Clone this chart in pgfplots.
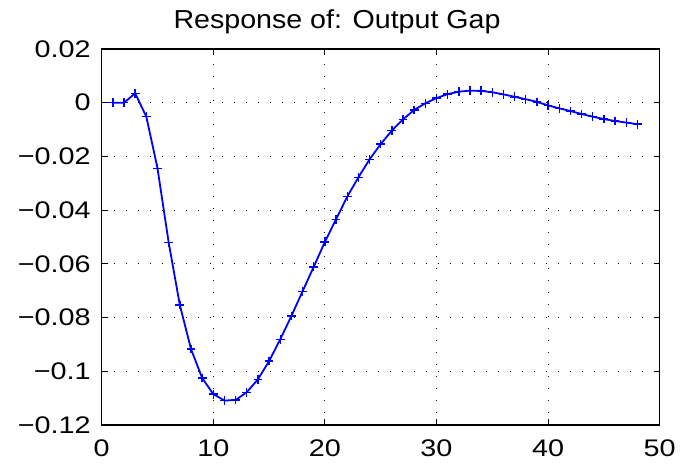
\documentclass[border=0pt]{standalone}
\usepackage{pgfplots}
\pgfplotsset{compat=1.18}
\usepackage{fontspec}
\setmainfont{Liberation Sans}
\newfontfamily\tickfont{Liberation Sans}[FakeStretch=1.2]
\newfontfamily\titlefont{Liberation Sans}[FakeStretch=1.1]
\begin{document}
\begin{tikzpicture}
\begin{axis}[
  name=ax,
  scale only axis,
  width=279pt, height=188pt,
  xmin=0, xmax=50, ymin=-0.12, ymax=0.02,
  xtick={0,10,20,30,40,50},
  ytick={-0.12,-0.1,-0.08,-0.06,-0.04,-0.02,0,0.02},
  yticklabels={−0.12,−0.1,−0.08,−0.06,−0.04,−0.02,0,0.02},
  xticklabels={0,10,20,30,40,50},
  tick label style={font=\tickfont\fontsize{12}{14}\selectfont},
  /pgf/number format/assume math mode=true,
  tick align=inside,
  major tick length=3pt,
  axis line style={line width=0.6pt},
  tick style={black, line width=0.5pt},
  grid=major,
  major grid style={black, line width=0.5pt, dash pattern=on 0.5pt off 5.5pt},
  every axis title shift=0pt,
  title={Response of: Output Gap},
  title style={font=\titlefont\fontsize{13}{15}\selectfont, at={(0.4217,1)}, anchor=base, yshift=10pt},
  yticklabel style={xshift=-2pt},
  xticklabel style={yshift=-4pt},
]
\addplot[blue, line width=0.9pt, mark=+, mark size=2.2pt, mark options={line width=0.7pt}] coordinates {
(1,0) (2,0) (3,0.0035) (4,-0.0052) (5,-0.0244) (6,-0.0520) (7,-0.0753) (8,-0.0917)
(9,-0.1025) (10,-0.1085) (11,-0.1109) (12,-0.1107) (13,-0.1078) (14,-0.1030) (15,-0.0962)
(16,-0.0881) (17,-0.0794) (18,-0.0702) (19,-0.0611) (20,-0.0518) (21,-0.0434) (22,-0.0350)
(23,-0.0278) (24,-0.0211) (25,-0.0154) (26,-0.0104) (27,-0.0062) (28,-0.0027) (29,-0.0002)
(30,0.0017) (31,0.0032) (32,0.0041) (33,0.0045) (34,0.0044) (35,0.0039) (36,0.0031)
(37,0.0022) (38,0.0013) (39,0.0003) (40,-0.0010) (41,-0.0021) (42,-0.0031) (43,-0.0042)
(44,-0.0052) (45,-0.0061) (46,-0.0068) (47,-0.0074) (48,-0.0080)
};
\end{axis}
\pgfresetboundingbox
\useasboundingbox (ax.south west) ++(-50.85pt,-20.5pt) rectangle ++(349pt,233pt);
\end{tikzpicture}
\end{document}
